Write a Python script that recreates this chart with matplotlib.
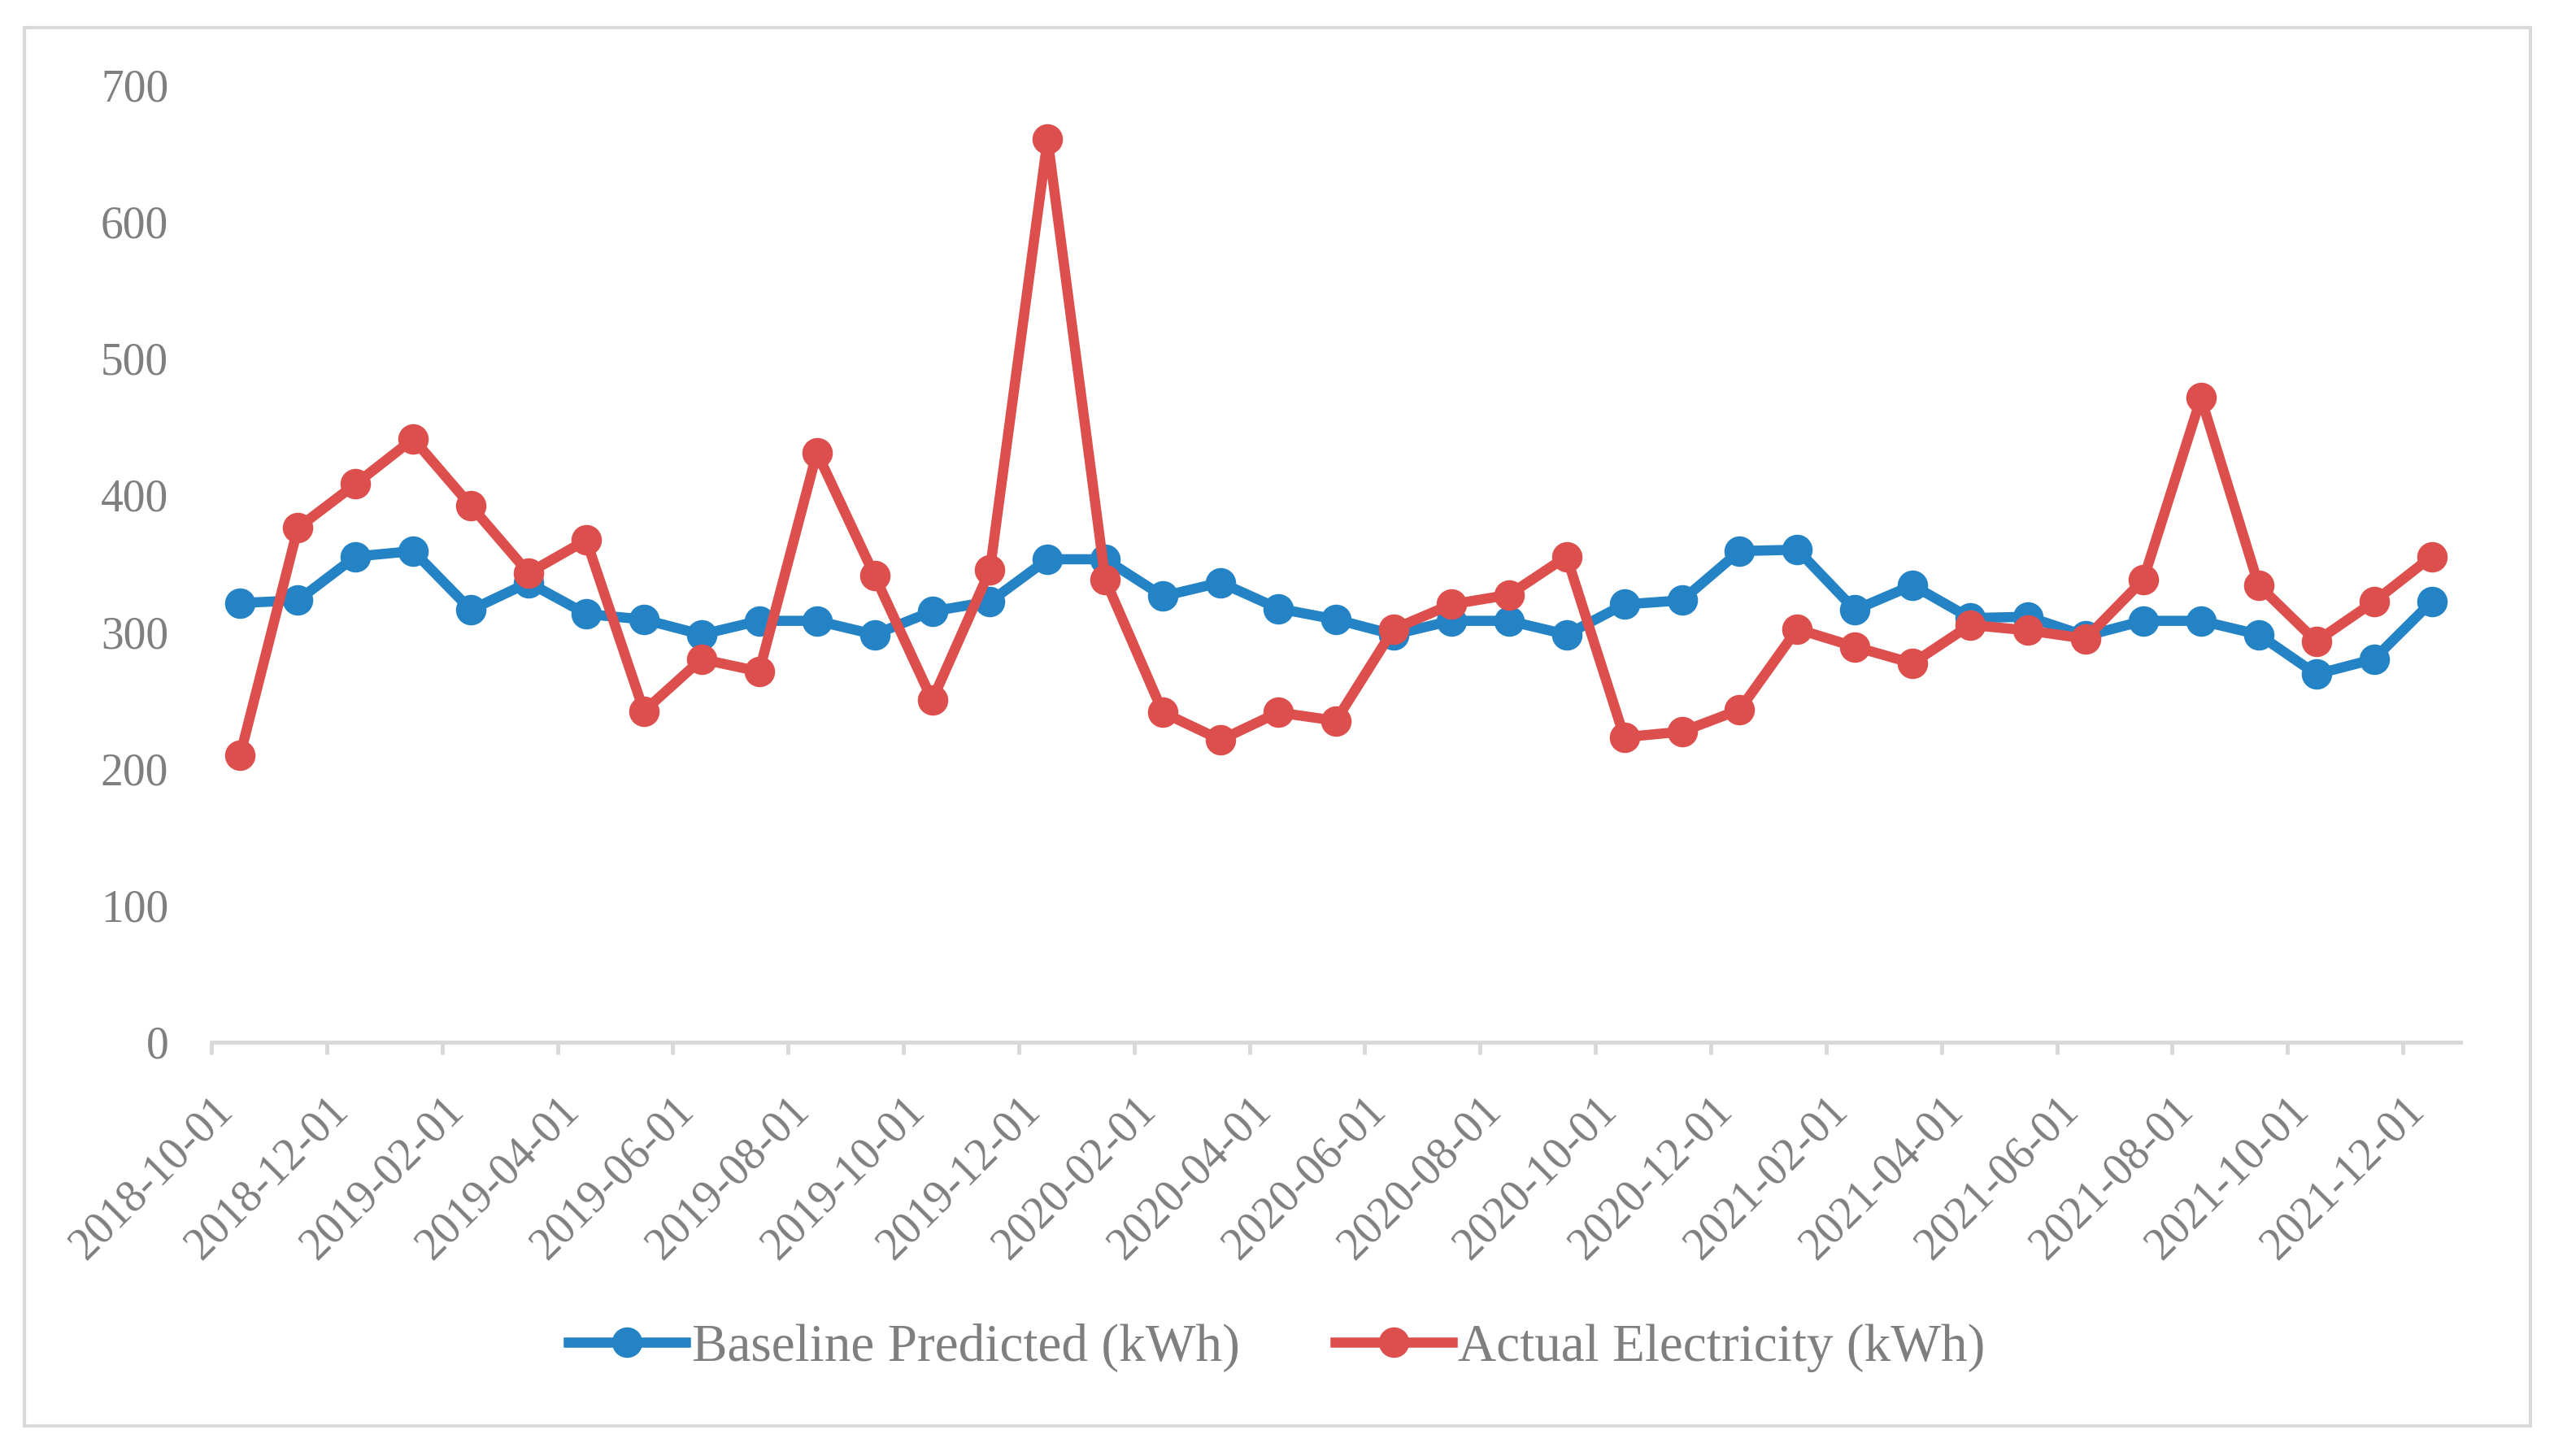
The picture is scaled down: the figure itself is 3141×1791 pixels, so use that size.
import matplotlib
matplotlib.use("Agg")
import matplotlib.pyplot as plt
from matplotlib.patches import Rectangle
import numpy as np

# monthly values, 2018-10 .. 2021-12
months = ["2018-10-01", "2018-11-01", "2018-12-01",
          "2019-01-01", "2019-02-01", "2019-03-01", "2019-04-01", "2019-05-01", "2019-06-01",
          "2019-07-01", "2019-08-01", "2019-09-01", "2019-10-01", "2019-11-01", "2019-12-01",
          "2020-01-01", "2020-02-01", "2020-03-01", "2020-04-01", "2020-05-01", "2020-06-01",
          "2020-07-01", "2020-08-01", "2020-09-01", "2020-10-01", "2020-11-01", "2020-12-01",
          "2021-01-01", "2021-02-01", "2021-03-01", "2021-04-01", "2021-05-01", "2021-06-01",
          "2021-07-01", "2021-08-01", "2021-09-01", "2021-10-01", "2021-11-01", "2021-12-01"]

baseline = [321, 323, 355, 359, 316, 336, 313, 309, 298,
            308, 308, 298, 315, 322, 353,
            353, 326, 336, 317, 309, 298,
            308, 308, 298, 320, 323, 359,
            360, 316, 334, 310, 311, 297,
            308, 308, 298, 269, 280, 322]

actual = [210, 376, 408, 441, 392, 343, 367, 242, 280,
          271, 431, 341, 250, 345, 660,
          338, 241, 221, 241, 235, 302,
          320, 327, 355, 223, 227, 243,
          302, 289, 277, 305, 301, 295,
          338, 471, 334, 293, 322, 355]

blue = "#2383c4"
red = "#dd4f4d"
gray_txt = "#7f7f7f"
gray_line = "#d9d9d9"

plt.rcParams['font.family'] = ['Liberation Serif', 'DejaVu Serif']

W, H = 3141, 1791
fig = plt.figure(figsize=(W / 100, H / 100), dpi=100)

# outer chart border
fig.patches.append(Rectangle((30 / W, 1 - 1754 / H), (3112 - 30) / W, (1754 - 34) / H,
                             transform=fig.transFigure, fill=False,
                             edgecolor=gray_line, linewidth=3))

ax = fig.add_axes([260 / W, 1 - 1282 / H, (3026 - 260) / W, (1282 - 104) / H])

x = np.arange(len(months)) + 0.5
ax.plot(x, baseline, color=blue, lw=9, marker='o', ms=26, label="Baseline Predicted (kWh)",
        solid_joinstyle='round')
ax.plot(x, actual, color=red, lw=9, marker='o', ms=26, label="Actual Electricity (kWh)",
        solid_joinstyle='round')

ax.set_xlim(0, len(months))
ax.set_ylim(0, 700)
ax.set_yticks(np.arange(0, 701, 100))

tick_pos = np.arange(0, len(months), 2)
ax.set_xticks(tick_pos)
ax.set_xticklabels([months[i] for i in tick_pos], rotation=45, ha='right', va='top',
                   rotation_mode='anchor')

for s in ['top', 'right', 'left']:
    ax.spines[s].set_visible(False)
ax.spines['bottom'].set_color(gray_line)
ax.spines['bottom'].set_linewidth(3.5)

ax.tick_params(axis='x', colors=gray_line, length=11, width=3.5, direction='out',
               labelcolor=gray_txt, labelsize=40, pad=30)
ax.tick_params(axis='y', length=0, labelcolor=gray_txt, labelsize=40, pad=38)

fig.legend(loc='center', bbox_to_anchor=(0.5, 1 - 1658 / H), ncol=2, frameon=False,
           fontsize=47, labelcolor=gray_txt, handlelength=2.2, handletextpad=0.12,
           columnspacing=1.8)

fig.savefig("out.png", dpi=100)
